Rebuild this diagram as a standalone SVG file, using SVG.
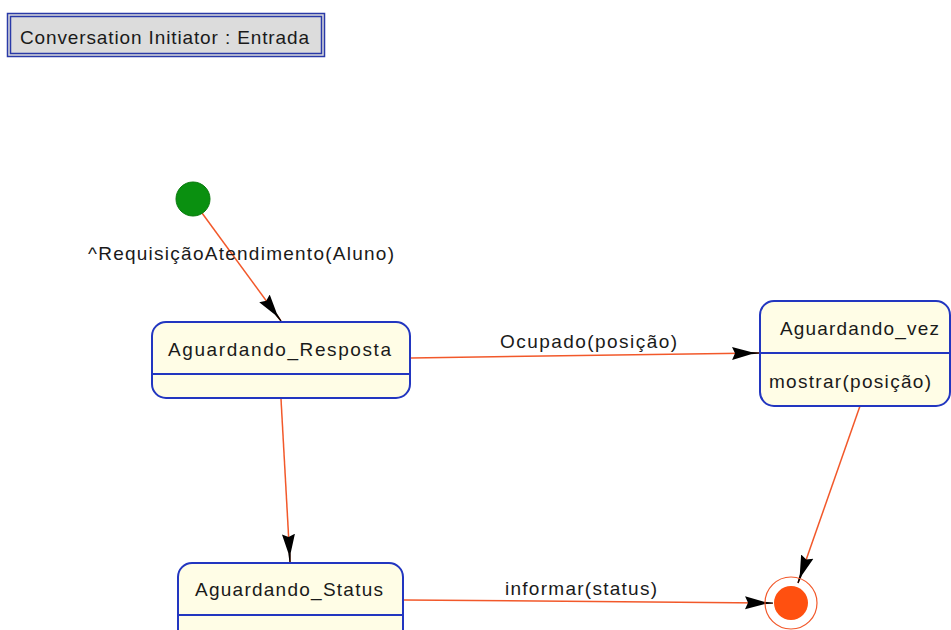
<svg xmlns="http://www.w3.org/2000/svg" width="951" height="630" viewBox="0 0 951 630">
  <style>
    .lbl { font-family: "Liberation Sans", Arial, sans-serif; font-size: 19px; fill: #1a1a1a; }
    .state { fill: #fffde6; stroke: #2236c0; stroke-width: 2; }
    .div { stroke: #2236c0; stroke-width: 2; }
    .edge { stroke: #f2582a; stroke-width: 1.5; fill: none; }
  </style>
  <defs>
    <!-- filled head with a short black tip segment -->
    <marker id="arrow" markerUnits="userSpaceOnUse" markerWidth="30" markerHeight="16" refX="28" refY="7" orient="auto">
      <path d="M0,0.5 L3,7 L0,13.5 L19,8.2 L28,7.6 L28,6.4 L19,5.8 Z" fill="#000"/>
    </marker>
  </defs>

  <rect x="0" y="0" width="951" height="630" fill="#fff"/>

  <!-- diagram title -->
  <g id="title">
    <rect x="7.5" y="13.5" width="317" height="43" fill="#dcdcdc" stroke="#2a3aa8" stroke-width="1.5"/>
    <rect x="10.5" y="16.5" width="311" height="37" fill="none" stroke="#2a3aa8" stroke-width="1.5"/>
    <text class="lbl" x="20" y="44" textLength="289" lengthAdjust="spacing">Conversation Initiator : Entrada</text>
  </g>

  <!-- transitions -->
  <g id="connectors">
    <line class="edge" x1="202" y1="213" x2="281" y2="321" marker-end="url(#arrow)"/>
    <text class="lbl" x="88" y="260" textLength="306" lengthAdjust="spacing">^RequisiçãoAtendimento(Aluno)</text>

    <line class="edge" x1="411" y1="358" x2="760" y2="353" marker-end="url(#arrow)"/>
    <text class="lbl" x="500" y="348" textLength="177" lengthAdjust="spacing">Ocupado(posição)</text>

    <line class="edge" x1="281" y1="399" x2="290" y2="562" marker-end="url(#arrow)"/>

    <line class="edge" x1="860" y1="406" x2="798" y2="583" marker-end="url(#arrow)"/>

    <line class="edge" x1="404" y1="600" x2="773" y2="603" marker-end="url(#arrow)"/>
    <text class="lbl" x="505" y="595" textLength="152" lengthAdjust="spacing">informar(status)</text>
  </g>

  <!-- initial state -->
  <g id="initial">
    <circle cx="193" cy="199" r="17" fill="#0a9010" stroke="#087a0c" stroke-width="1"/>
  </g>

  <!-- state: Aguardando_Resposta -->
  <g id="aguardando-resposta">
    <rect class="state" x="152" y="322" width="258" height="76" rx="14" ry="14"/>
    <line class="div" x1="152" y1="374" x2="410" y2="374"/>
    <text class="lbl" x="168" y="356" textLength="223" lengthAdjust="spacing">Aguardando_Resposta</text>
  </g>

  <!-- state: Aguardando_vez -->
  <g id="aguardando-vez">
    <rect class="state" x="760" y="301" width="190" height="105" rx="14" ry="14"/>
    <line class="div" x1="760" y1="353" x2="950" y2="353"/>
    <text class="lbl" x="780" y="335" textLength="159" lengthAdjust="spacing">Aguardando_vez</text>
    <text class="lbl" x="769" y="388" textLength="162" lengthAdjust="spacing">mostrar(posição)</text>
  </g>

  <!-- state: Aguardando_Status -->
  <g id="aguardando-status">
    <rect class="state" x="178" y="563" width="225" height="90" rx="14" ry="14"/>
    <line class="div" x1="178" y1="615" x2="403" y2="615"/>
    <text class="lbl" x="195" y="596" textLength="188" lengthAdjust="spacing">Aguardando_Status</text>
  </g>

  <!-- final state -->
  <g id="final">
    <circle cx="791" cy="603" r="26" fill="none" stroke="#f2582a" stroke-width="1.2"/>
    <circle cx="791" cy="603" r="17" fill="#ff5010"/>
  </g>
</svg>
